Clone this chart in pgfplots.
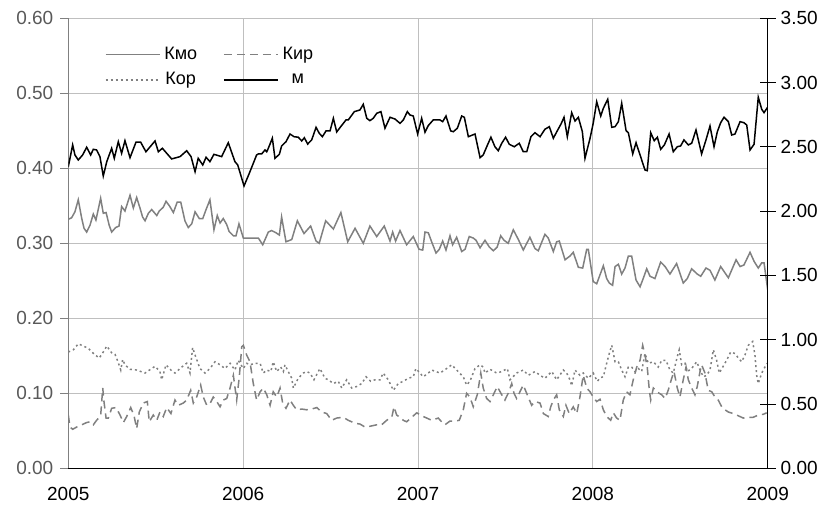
\documentclass[border=0pt]{standalone}
\usepackage{fontspec}
\setmainfont{Liberation Sans}
\usepackage{pgfplots}
\pgfplotsset{compat=1.18}
\definecolor{sgray}{RGB}{128,128,128}
\definecolor{lgray}{RGB}{89,89,89}
\definecolor{grid}{RGB}{217,217,217}
\begin{document}
\begin{tikzpicture}[x=1pt,y=1pt]
\useasboundingbox (-34.15,-18.85) rectangle (379.85,234.15);
\begin{axis}[
  at={(0,0)}, anchor=south west,
  width=349.7pt, height=225pt, scale only axis,
  xmin=2005, xmax=2009, ymin=0, ymax=0.6,
  xtick={2005,2006,2007,2008,2009},
  ytick={0,0.1,0.2,0.3,0.4,0.5,0.6},
  axis x line*=bottom, axis y line*=left,
  x axis line style={black, line width=0.6pt, -},
  y axis line style={sgray, line width=0.6pt, -},
  tick align=outside, major tick length=4pt,
  ytick style={sgray, line width=0.5pt},
  xtick style={draw=none},
  grid=major, grid style={grid, line width=0.5pt},
  tick label style={font=\fontsize{9.5}{11}\selectfont},
  /pgf/number format/assume math mode=true,
  xticklabel style={/pgf/number format/1000 sep={}, black, yshift=-2pt},
  yticklabel style={/pgf/number format/fixed, /pgf/number format/fixed zerofill, /pgf/number format/precision=2, lgray},
  legend columns=2,
  legend style={draw=none, fill=none, at={(0.043,0.955)}, anchor=north west,
    font=\fontsize{9}{10}\selectfont, /tikz/every even column/.append style={column sep=11pt},
    row sep=1pt},
  legend image code/.code={\draw[#1] (0pt,0pt) -- (27pt,0pt);},
]
\addplot[sgray, line width=0.75pt] coordinates {
(2005.000,0.332)(2005.019,0.334)(2005.038,0.342)(2005.057,0.358)(2005.077,0.333)(2005.090,0.320)(2005.105,0.315)(2005.124,0.324)(2005.143,0.339)(2005.158,0.331)(2005.185,0.360)(2005.200,0.340)(2005.216,0.341)(2005.234,0.324)(2005.248,0.315)(2005.271,0.321)(2005.290,0.323)(2005.305,0.349)(2005.324,0.343)(2005.353,0.364)(2005.372,0.347)(2005.391,0.361)(2005.410,0.347)(2005.425,0.335)(2005.439,0.330)(2005.458,0.340)(2005.477,0.345)(2005.506,0.337)(2005.520,0.343)(2005.543,0.348)(2005.559,0.356)(2005.578,0.350)(2005.601,0.341)(2005.623,0.355)(2005.643,0.355)(2005.667,0.330)(2005.686,0.321)(2005.706,0.326)(2005.725,0.342)(2005.749,0.333)(2005.769,0.333)(2005.788,0.345)(2005.810,0.358)(2005.833,0.318)(2005.852,0.337)(2005.868,0.327)(2005.886,0.333)(2005.906,0.325)(2005.919,0.316)(2005.944,0.310)(2005.959,0.310)(2005.976,0.326)(2006.001,0.307)(2006.087,0.307)(2006.112,0.298)(2006.144,0.315)(2006.163,0.317)(2006.188,0.314)(2006.207,0.311)(2006.220,0.335)(2006.245,0.302)(2006.278,0.305)(2006.310,0.330)(2006.348,0.313)(2006.386,0.323)(2006.417,0.303)(2006.435,0.300)(2006.472,0.330)(2006.516,0.319)(2006.559,0.341)(2006.598,0.302)(2006.640,0.320)(2006.687,0.300)(2006.725,0.323)(2006.764,0.309)(2006.807,0.323)(2006.840,0.303)(2006.855,0.315)(2006.872,0.303)(2006.897,0.317)(2006.935,0.298)(2006.973,0.309)(2007.006,0.292)(2007.027,0.291)(2007.040,0.315)(2007.059,0.314)(2007.078,0.302)(2007.103,0.287)(2007.122,0.292)(2007.141,0.303)(2007.160,0.291)(2007.183,0.310)(2007.198,0.298)(2007.221,0.308)(2007.250,0.289)(2007.269,0.292)(2007.293,0.309)(2007.316,0.307)(2007.332,0.304)(2007.355,0.294)(2007.383,0.304)(2007.408,0.295)(2007.431,0.290)(2007.453,0.295)(2007.473,0.310)(2007.492,0.304)(2007.516,0.300)(2007.545,0.318)(2007.574,0.305)(2007.602,0.291)(2007.640,0.308)(2007.669,0.293)(2007.688,0.290)(2007.726,0.312)(2007.745,0.307)(2007.774,0.289)(2007.793,0.302)(2007.808,0.303)(2007.841,0.278)(2007.869,0.283)(2007.888,0.288)(2007.917,0.268)(2007.942,0.267)(2007.965,0.292)(2007.974,0.292)(2008.002,0.249)(2008.022,0.246)(2008.060,0.270)(2008.079,0.253)(2008.094,0.247)(2008.113,0.244)(2008.127,0.269)(2008.146,0.272)(2008.165,0.259)(2008.184,0.267)(2008.203,0.283)(2008.222,0.283)(2008.247,0.251)(2008.270,0.242)(2008.288,0.253)(2008.308,0.266)(2008.327,0.256)(2008.355,0.253)(2008.388,0.275)(2008.413,0.269)(2008.441,0.259)(2008.479,0.273)(2008.517,0.247)(2008.540,0.253)(2008.565,0.266)(2008.597,0.259)(2008.617,0.256)(2008.647,0.267)(2008.670,0.264)(2008.698,0.251)(2008.731,0.269)(2008.775,0.254)(2008.819,0.278)(2008.842,0.269)(2008.864,0.271)(2008.899,0.288)(2008.922,0.276)(2008.946,0.267)(2008.966,0.274)(2008.979,0.274)(2009.000,0.238)
};
\addlegendentry{Кмо}
\addplot[sgray, line width=0.75pt, dash pattern=on 4pt off 2.5pt] coordinates {
(2005.000,0.071)(2005.010,0.055)(2005.025,0.052)(2005.048,0.055)(2005.077,0.058)(2005.105,0.061)(2005.124,0.062)(2005.143,0.058)(2005.162,0.064)(2005.185,0.070)(2005.197,0.107)(2005.204,0.089)(2005.216,0.067)(2005.229,0.067)(2005.248,0.080)(2005.273,0.081)(2005.296,0.071)(2005.315,0.061)(2005.334,0.069)(2005.357,0.081)(2005.376,0.070)(2005.391,0.053)(2005.406,0.075)(2005.429,0.087)(2005.452,0.089)(2005.463,0.062)(2005.486,0.071)(2005.506,0.064)(2005.524,0.075)(2005.543,0.069)(2005.563,0.081)(2005.587,0.073)(2005.610,0.091)(2005.629,0.084)(2005.658,0.087)(2005.677,0.091)(2005.700,0.104)(2005.715,0.087)(2005.734,0.095)(2005.757,0.111)(2005.772,0.095)(2005.792,0.084)(2005.810,0.086)(2005.829,0.095)(2005.849,0.089)(2005.868,0.082)(2005.886,0.091)(2005.906,0.093)(2005.925,0.107)(2005.944,0.124)(2005.963,0.091)(2005.978,0.122)(2005.992,0.162)(2006.001,0.164)(2006.020,0.151)(2006.039,0.142)(2006.058,0.113)(2006.077,0.091)(2006.097,0.102)(2006.115,0.107)(2006.135,0.098)(2006.154,0.084)(2006.172,0.102)(2006.192,0.095)(2006.211,0.107)(2006.226,0.087)(2006.245,0.080)(2006.268,0.091)(2006.287,0.084)(2006.306,0.078)(2006.335,0.079)(2006.363,0.078)(2006.392,0.079)(2006.421,0.081)(2006.449,0.075)(2006.478,0.073)(2006.506,0.064)(2006.535,0.067)(2006.573,0.068)(2006.601,0.064)(2006.640,0.060)(2006.668,0.059)(2006.697,0.055)(2006.725,0.056)(2006.764,0.058)(2006.792,0.058)(2006.821,0.064)(2006.850,0.068)(2006.863,0.082)(2006.878,0.071)(2006.897,0.068)(2006.916,0.064)(2006.935,0.062)(2006.964,0.068)(2006.993,0.074)(2007.021,0.070)(2007.050,0.067)(2007.078,0.064)(2007.116,0.067)(2007.135,0.062)(2007.154,0.058)(2007.183,0.063)(2007.212,0.063)(2007.236,0.064)(2007.259,0.078)(2007.278,0.100)(2007.297,0.095)(2007.316,0.082)(2007.339,0.098)(2007.359,0.127)(2007.373,0.107)(2007.393,0.093)(2007.412,0.089)(2007.435,0.100)(2007.453,0.109)(2007.479,0.098)(2007.497,0.091)(2007.516,0.100)(2007.536,0.113)(2007.549,0.100)(2007.564,0.093)(2007.583,0.102)(2007.602,0.111)(2007.625,0.098)(2007.650,0.084)(2007.669,0.089)(2007.698,0.087)(2007.717,0.073)(2007.745,0.069)(2007.759,0.082)(2007.774,0.091)(2007.793,0.098)(2007.808,0.078)(2007.831,0.069)(2007.846,0.084)(2007.865,0.073)(2007.888,0.082)(2007.908,0.073)(2007.926,0.095)(2007.945,0.124)(2007.965,0.107)(2007.984,0.102)(2008.002,0.095)(2008.022,0.089)(2008.041,0.092)(2008.060,0.078)(2008.079,0.069)(2008.102,0.064)(2008.117,0.074)(2008.136,0.067)(2008.155,0.064)(2008.174,0.091)(2008.193,0.102)(2008.212,0.098)(2008.231,0.118)(2008.251,0.135)(2008.270,0.144)(2008.285,0.164)(2008.298,0.151)(2008.311,0.135)(2008.323,0.104)(2008.331,0.091)(2008.346,0.107)(2008.365,0.102)(2008.394,0.098)(2008.413,0.093)(2008.431,0.104)(2008.451,0.120)(2008.464,0.129)(2008.483,0.107)(2008.498,0.095)(2008.517,0.118)(2008.533,0.135)(2008.546,0.118)(2008.565,0.107)(2008.584,0.098)(2008.597,0.109)(2008.613,0.129)(2008.622,0.138)(2008.641,0.127)(2008.660,0.104)(2008.680,0.102)(2008.698,0.095)(2008.717,0.091)(2008.737,0.082)(2008.756,0.078)(2008.775,0.075)(2008.803,0.073)(2008.832,0.070)(2008.860,0.067)(2008.889,0.068)(2008.917,0.068)(2008.946,0.071)(2008.975,0.072)(2008.994,0.074)
};
\addlegendentry{Кир}
\addplot[sgray, line width=0.75pt, dash pattern=on 1pt off 1.5pt] coordinates {
(2005.000,0.155)(2005.029,0.158)(2005.057,0.166)(2005.086,0.163)(2005.114,0.160)(2005.149,0.152)(2005.177,0.147)(2005.200,0.155)(2005.220,0.163)(2005.248,0.154)(2005.267,0.152)(2005.286,0.141)(2005.300,0.131)(2005.311,0.145)(2005.324,0.138)(2005.353,0.132)(2005.391,0.131)(2005.439,0.127)(2005.458,0.130)(2005.496,0.136)(2005.524,0.129)(2005.534,0.118)(2005.559,0.138)(2005.591,0.130)(2005.610,0.127)(2005.649,0.135)(2005.677,0.140)(2005.696,0.127)(2005.711,0.161)(2005.725,0.151)(2005.753,0.133)(2005.782,0.127)(2005.810,0.133)(2005.839,0.142)(2005.868,0.138)(2005.896,0.133)(2005.925,0.140)(2005.953,0.131)(2005.972,0.144)(2005.982,0.140)(2006.001,0.133)(2006.020,0.140)(2006.039,0.138)(2006.068,0.140)(2006.097,0.140)(2006.115,0.127)(2006.135,0.131)(2006.158,0.129)(2006.172,0.142)(2006.192,0.129)(2006.215,0.135)(2006.230,0.129)(2006.239,0.138)(2006.258,0.129)(2006.278,0.120)(2006.287,0.107)(2006.315,0.120)(2006.344,0.127)(2006.363,0.129)(2006.382,0.127)(2006.405,0.118)(2006.430,0.129)(2006.439,0.133)(2006.468,0.120)(2006.487,0.118)(2006.516,0.113)(2006.544,0.116)(2006.564,0.107)(2006.592,0.118)(2006.621,0.107)(2006.649,0.109)(2006.678,0.113)(2006.703,0.122)(2006.729,0.116)(2006.754,0.118)(2006.783,0.118)(2006.801,0.127)(2006.830,0.118)(2006.859,0.104)(2006.887,0.113)(2006.916,0.116)(2006.944,0.120)(2006.973,0.122)(2006.988,0.133)(2007.011,0.127)(2007.030,0.122)(2007.059,0.127)(2007.078,0.131)(2007.126,0.127)(2007.164,0.133)(2007.193,0.138)(2007.221,0.131)(2007.259,0.122)(2007.278,0.111)(2007.297,0.116)(2007.326,0.133)(2007.355,0.138)(2007.373,0.135)(2007.383,0.127)(2007.412,0.132)(2007.450,0.127)(2007.479,0.129)(2007.511,0.133)(2007.526,0.118)(2007.564,0.127)(2007.602,0.131)(2007.631,0.124)(2007.669,0.129)(2007.698,0.124)(2007.726,0.120)(2007.765,0.129)(2007.793,0.118)(2007.831,0.131)(2007.850,0.127)(2007.869,0.118)(2007.879,0.110)(2007.898,0.131)(2007.926,0.124)(2007.945,0.127)(2007.974,0.120)(2008.002,0.127)(2008.025,0.116)(2008.045,0.121)(2008.060,0.122)(2008.079,0.140)(2008.094,0.153)(2008.108,0.164)(2008.127,0.142)(2008.146,0.142)(2008.165,0.131)(2008.184,0.122)(2008.203,0.135)(2008.222,0.135)(2008.241,0.129)(2008.260,0.133)(2008.279,0.129)(2008.298,0.153)(2008.317,0.140)(2008.346,0.142)(2008.374,0.135)(2008.394,0.144)(2008.418,0.144)(2008.441,0.131)(2008.460,0.127)(2008.483,0.149)(2008.494,0.158)(2008.508,0.138)(2008.527,0.140)(2008.540,0.129)(2008.565,0.133)(2008.594,0.142)(2008.613,0.131)(2008.632,0.122)(2008.651,0.124)(2008.670,0.131)(2008.689,0.158)(2008.708,0.144)(2008.723,0.127)(2008.743,0.135)(2008.765,0.144)(2008.788,0.155)(2008.813,0.153)(2008.832,0.147)(2008.851,0.142)(2008.870,0.151)(2008.889,0.164)(2008.914,0.169)(2008.927,0.151)(2008.937,0.124)(2008.946,0.113)(2008.966,0.127)(2008.984,0.135)(2008.998,0.140)
};
\addlegendentry{Кор}
\addlegendimage{black, line width=0.75pt}
\addlegendentry{м}
\end{axis}
\begin{axis}[
  at={(0,0)}, anchor=south west,
  width=349.7pt, height=225pt, scale only axis,
  xmin=2005, xmax=2009, ymin=0, ymax=3.5,
  ytick={0,0.5,1,1.5,2,2.5,3,3.5},
  axis y line*=right, axis x line=none,
  y axis line style={black, line width=0.6pt, -},
  tick align=center, major tick length=8pt,
  ytick style={black, line width=0.5pt},
  tick label style={font=\fontsize{9.5}{11}\selectfont},
  /pgf/number format/assume math mode=true,
  yticklabel style={/pgf/number format/fixed, /pgf/number format/fixed zerofill, /pgf/number format/precision=2, black, xshift=-1pt},
]
\addplot[black, line width=0.75pt] coordinates {
(2005.000,2.346)(2005.025,2.515)(2005.038,2.437)(2005.057,2.398)(2005.082,2.437)(2005.105,2.497)(2005.128,2.437)(2005.143,2.481)(2005.162,2.476)(2005.181,2.424)(2005.200,2.273)(2005.220,2.385)(2005.248,2.489)(2005.263,2.411)(2005.286,2.540)(2005.305,2.450)(2005.324,2.548)(2005.353,2.416)(2005.387,2.536)(2005.414,2.536)(2005.444,2.462)(2005.496,2.546)(2005.515,2.462)(2005.538,2.489)(2005.591,2.406)(2005.639,2.424)(2005.677,2.470)(2005.702,2.424)(2005.725,2.307)(2005.743,2.411)(2005.769,2.359)(2005.788,2.419)(2005.810,2.385)(2005.833,2.442)(2005.877,2.424)(2005.915,2.532)(2005.953,2.385)(2005.969,2.359)(2006.005,2.196)(2006.039,2.307)(2006.077,2.437)(2006.087,2.445)(2006.106,2.445)(2006.125,2.476)(2006.135,2.462)(2006.144,2.489)(2006.167,2.567)(2006.182,2.411)(2006.207,2.442)(2006.220,2.507)(2006.245,2.540)(2006.268,2.600)(2006.291,2.579)(2006.315,2.575)(2006.335,2.546)(2006.350,2.571)(2006.369,2.522)(2006.392,2.554)(2006.417,2.652)(2006.435,2.606)(2006.453,2.579)(2006.474,2.624)(2006.497,2.624)(2006.516,2.722)(2006.535,2.616)(2006.558,2.657)(2006.588,2.709)(2006.601,2.709)(2006.636,2.774)(2006.668,2.787)(2006.687,2.831)(2006.707,2.722)(2006.725,2.704)(2006.744,2.722)(2006.764,2.761)(2006.788,2.774)(2006.811,2.645)(2006.840,2.730)(2006.868,2.717)(2006.897,2.683)(2006.916,2.709)(2006.939,2.774)(2006.954,2.748)(2006.973,2.740)(2006.998,2.600)(2007.021,2.722)(2007.040,2.614)(2007.059,2.666)(2007.087,2.709)(2007.126,2.709)(2007.141,2.696)(2007.160,2.740)(2007.187,2.624)(2007.202,2.618)(2007.225,2.645)(2007.250,2.740)(2007.265,2.730)(2007.288,2.579)(2007.326,2.600)(2007.355,2.416)(2007.373,2.437)(2007.393,2.501)(2007.417,2.575)(2007.440,2.501)(2007.459,2.470)(2007.479,2.528)(2007.501,2.575)(2007.522,2.520)(2007.551,2.501)(2007.579,2.528)(2007.602,2.462)(2007.622,2.462)(2007.646,2.579)(2007.669,2.610)(2007.698,2.579)(2007.726,2.637)(2007.751,2.657)(2007.774,2.567)(2007.797,2.626)(2007.818,2.678)(2007.835,2.730)(2007.854,2.579)(2007.879,2.766)(2007.898,2.701)(2007.917,2.730)(2007.940,2.618)(2007.955,2.411)(2007.984,2.567)(2008.002,2.683)(2008.022,2.851)(2008.045,2.740)(2008.060,2.800)(2008.085,2.870)(2008.108,2.652)(2008.127,2.657)(2008.146,2.696)(2008.165,2.839)(2008.190,2.626)(2008.203,2.610)(2008.228,2.445)(2008.247,2.532)(2008.270,2.437)(2008.298,2.320)(2008.311,2.315)(2008.331,2.610)(2008.351,2.548)(2008.369,2.575)(2008.388,2.481)(2008.409,2.515)(2008.436,2.600)(2008.460,2.462)(2008.483,2.501)(2008.502,2.507)(2008.521,2.554)(2008.546,2.515)(2008.565,2.528)(2008.590,2.631)(2008.622,2.445)(2008.647,2.554)(2008.670,2.662)(2008.693,2.501)(2008.712,2.618)(2008.731,2.688)(2008.750,2.730)(2008.775,2.696)(2008.794,2.592)(2008.813,2.600)(2008.842,2.696)(2008.864,2.688)(2008.880,2.670)(2008.899,2.476)(2008.922,2.520)(2008.946,2.886)(2008.966,2.792)(2008.979,2.766)(2008.998,2.805)
};
\end{axis}
\end{tikzpicture}
\end{document}
